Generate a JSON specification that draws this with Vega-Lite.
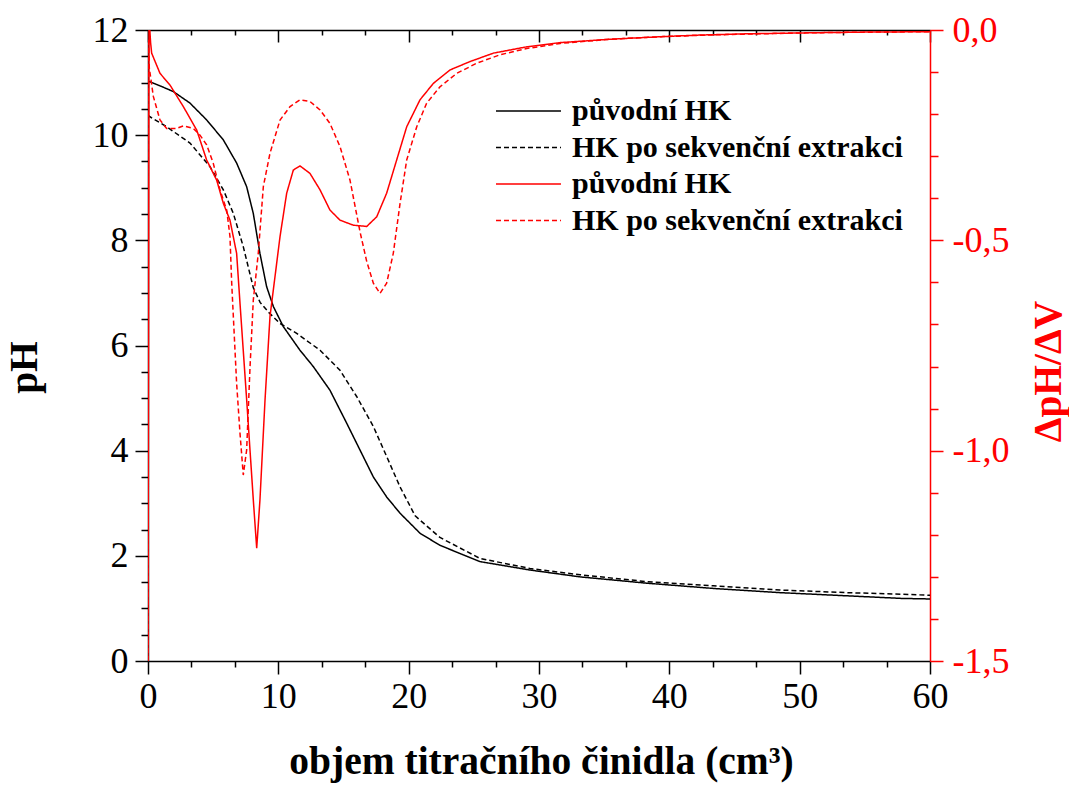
{
  "$schema": "https://vega.github.io/schema/vega-lite/v6.json",
  "width": 782,
  "height": 631,
  "autosize": {"type": "none"},
  "padding": {"left": 148, "top": 30, "right": 139, "bottom": 130},
  "background": "white",
  "config": {
    "font": "'Liberation Serif', 'Times New Roman', 'DejaVu Serif', serif",
    "view": {"stroke": null},
    "axis": {
      "grid": false,
      "labelFont": "'Liberation Serif', 'Times New Roman', 'DejaVu Serif', serif",
      "titleFont": "'Liberation Serif', 'Times New Roman', 'DejaVu Serif', serif",
      "labelFontSize": 36,
      "titleFontSize": 39.5,
      "titleFontWeight": "bold",
      "domainWidth": 1.5,
      "tickWidth": 1.5,
      "domainColor": "#000000",
      "tickColor": "#000000",
      "labelColor": "#000000",
      "titleColor": "#000000",
      "labelOverlap": false,
      "labelFlush": false
    }
  },
  "data": {
    "values": [
      {"series": "pH1", "x": 0, "v": 11.03},
      {"series": "pH1", "x": 1.0, "v": 10.93},
      {"series": "pH1", "x": 1.94, "v": 10.83},
      {"series": "pH1", "x": 3.22, "v": 10.61},
      {"series": "pH1", "x": 4.5, "v": 10.29},
      {"series": "pH1", "x": 5.78, "v": 9.91},
      {"series": "pH1", "x": 6.8, "v": 9.47},
      {"series": "pH1", "x": 7.57, "v": 9.02},
      {"series": "pH1", "x": 8.08, "v": 8.51},
      {"series": "pH1", "x": 8.59, "v": 7.75},
      {"series": "pH1", "x": 9.1, "v": 7.12},
      {"series": "pH1", "x": 9.62, "v": 6.74},
      {"series": "pH1", "x": 10.38, "v": 6.36},
      {"series": "pH1", "x": 11.66, "v": 5.91},
      {"series": "pH1", "x": 12.68, "v": 5.6},
      {"series": "pH1", "x": 13.96, "v": 5.15},
      {"series": "pH1", "x": 15.25, "v": 4.52},
      {"series": "pH1", "x": 16.27, "v": 4.01},
      {"series": "pH1", "x": 17.29, "v": 3.5},
      {"series": "pH1", "x": 18.31, "v": 3.12},
      {"series": "pH1", "x": 19.34, "v": 2.81},
      {"series": "pH1", "x": 20.87, "v": 2.43},
      {"series": "pH1", "x": 22.4, "v": 2.2},
      {"series": "pH1", "x": 25.47, "v": 1.89},
      {"series": "pH1", "x": 29.31, "v": 1.73},
      {"series": "pH1", "x": 33.15, "v": 1.6},
      {"series": "pH1", "x": 38.26, "v": 1.48},
      {"series": "pH1", "x": 43.37, "v": 1.38},
      {"series": "pH1", "x": 48.49, "v": 1.3},
      {"series": "pH1", "x": 53.6, "v": 1.24},
      {"series": "pH1", "x": 57.83, "v": 1.19},
      {"series": "pH1", "x": 60, "v": 1.18},

      {"series": "pH2", "x": 0, "v": 10.38},
      {"series": "pH2", "x": 0.15, "v": 10.35},
      {"series": "pH2", "x": 1.43, "v": 10.16},
      {"series": "pH2", "x": 3.22, "v": 9.85},
      {"series": "pH2", "x": 4.76, "v": 9.4},
      {"series": "pH2", "x": 5.78, "v": 8.96},
      {"series": "pH2", "x": 6.55, "v": 8.51},
      {"series": "pH2", "x": 7.31, "v": 7.88},
      {"series": "pH2", "x": 8.08, "v": 7.1},
      {"series": "pH2", "x": 8.6, "v": 6.82},
      {"series": "pH2", "x": 9.3, "v": 6.62},
      {"series": "pH2", "x": 10.13, "v": 6.42},
      {"series": "pH2", "x": 11.41, "v": 6.23},
      {"series": "pH2", "x": 13.2, "v": 5.91},
      {"series": "pH2", "x": 14.73, "v": 5.53},
      {"series": "pH2", "x": 16.01, "v": 5.03},
      {"series": "pH2", "x": 17.29, "v": 4.46},
      {"series": "pH2", "x": 18.31, "v": 3.89},
      {"series": "pH2", "x": 19.34, "v": 3.31},
      {"series": "pH2", "x": 20.5, "v": 2.76},
      {"series": "pH2", "x": 22.4, "v": 2.35},
      {"series": "pH2", "x": 25.47, "v": 1.95},
      {"series": "pH2", "x": 29.31, "v": 1.76},
      {"series": "pH2", "x": 33.15, "v": 1.64},
      {"series": "pH2", "x": 38.26, "v": 1.51},
      {"series": "pH2", "x": 43.37, "v": 1.43},
      {"series": "pH2", "x": 48.49, "v": 1.35},
      {"series": "pH2", "x": 53.6, "v": 1.3},
      {"series": "pH2", "x": 57.83, "v": 1.27},
      {"series": "pH2", "x": 60, "v": 1.25},

      {"series": "d1", "x": 0, "v": -1.5},
      {"series": "d1", "x": 0.08, "v": 0.03},
      {"series": "d1", "x": 0.2, "v": -0.03},
      {"series": "d1", "x": 0.28, "v": -0.055},
      {"series": "d1", "x": 0.92, "v": -0.103},
      {"series": "d1", "x": 1.69, "v": -0.131},
      {"series": "d1", "x": 2.71, "v": -0.182},
      {"series": "d1", "x": 3.74, "v": -0.238},
      {"series": "d1", "x": 4.5, "v": -0.309},
      {"series": "d1", "x": 5.27, "v": -0.357},
      {"series": "d1", "x": 5.78, "v": -0.412},
      {"series": "d1", "x": 6.29, "v": -0.452},
      {"series": "d1", "x": 6.8, "v": -0.531},
      {"series": "d1", "x": 7.06, "v": -0.65},
      {"series": "d1", "x": 7.57, "v": -0.879},
      {"series": "d1", "x": 8.08, "v": -1.117},
      {"series": "d1", "x": 8.34, "v": -1.232},
      {"series": "d1", "x": 8.59, "v": -1.117},
      {"series": "d1", "x": 8.98, "v": -0.879},
      {"series": "d1", "x": 9.36, "v": -0.681},
      {"series": "d1", "x": 10.13, "v": -0.491},
      {"series": "d1", "x": 10.64, "v": -0.388},
      {"series": "d1", "x": 11.15, "v": -0.333},
      {"series": "d1", "x": 11.66, "v": -0.323},
      {"series": "d1", "x": 12.43, "v": -0.341},
      {"series": "d1", "x": 13.2, "v": -0.38},
      {"series": "d1", "x": 13.96, "v": -0.428},
      {"series": "d1", "x": 14.73, "v": -0.452},
      {"series": "d1", "x": 15.75, "v": -0.464},
      {"series": "d1", "x": 16.78, "v": -0.467},
      {"series": "d1", "x": 17.55, "v": -0.444},
      {"series": "d1", "x": 18.31, "v": -0.388},
      {"series": "d1", "x": 19.08, "v": -0.309},
      {"series": "d1", "x": 19.85, "v": -0.23},
      {"series": "d1", "x": 20.87, "v": -0.166},
      {"series": "d1", "x": 21.89, "v": -0.127},
      {"series": "d1", "x": 23.17, "v": -0.095},
      {"series": "d1", "x": 24.71, "v": -0.075},
      {"series": "d1", "x": 26.5, "v": -0.055},
      {"series": "d1", "x": 29.06, "v": -0.04},
      {"series": "d1", "x": 31.61, "v": -0.03},
      {"series": "d1", "x": 35.45, "v": -0.022},
      {"series": "d1", "x": 39.28, "v": -0.016},
      {"series": "d1", "x": 42.35, "v": -0.012},
      {"series": "d1", "x": 46, "v": -0.009},
      {"series": "d1", "x": 50, "v": -0.007},
      {"series": "d1", "x": 55, "v": -0.005},
      {"series": "d1", "x": 60, "v": -0.004},

      {"series": "d2", "x": 0, "v": -1.5},
      {"series": "d2", "x": 0.02, "v": -0.02},
      {"series": "d2", "x": 0.1, "v": -0.09},
      {"series": "d2", "x": 0.41, "v": -0.158},
      {"series": "d2", "x": 0.92, "v": -0.214},
      {"series": "d2", "x": 1.43, "v": -0.234},
      {"series": "d2", "x": 2.2, "v": -0.234},
      {"series": "d2", "x": 2.71, "v": -0.228},
      {"series": "d2", "x": 3.48, "v": -0.234},
      {"series": "d2", "x": 3.99, "v": -0.25},
      {"series": "d2", "x": 4.5, "v": -0.273},
      {"series": "d2", "x": 5.01, "v": -0.317},
      {"series": "d2", "x": 5.52, "v": -0.38},
      {"series": "d2", "x": 6.04, "v": -0.428},
      {"series": "d2", "x": 6.29, "v": -0.491},
      {"series": "d2", "x": 6.42, "v": -0.6},
      {"series": "d2", "x": 6.8, "v": -0.84},
      {"series": "d2", "x": 7.06, "v": -0.959},
      {"series": "d2", "x": 7.31, "v": -1.058},
      {"series": "d2", "x": 7.57, "v": -0.998},
      {"series": "d2", "x": 7.83, "v": -0.8},
      {"series": "d2", "x": 8.08, "v": -0.642},
      {"series": "d2", "x": 8.46, "v": -0.531},
      {"series": "d2", "x": 8.85, "v": -0.372},
      {"series": "d2", "x": 9.36, "v": -0.293},
      {"series": "d2", "x": 10.13, "v": -0.214},
      {"series": "d2", "x": 10.9, "v": -0.182},
      {"series": "d2", "x": 11.66, "v": -0.166},
      {"series": "d2", "x": 12.43, "v": -0.17},
      {"series": "d2", "x": 13.2, "v": -0.19},
      {"series": "d2", "x": 13.96, "v": -0.222},
      {"series": "d2", "x": 14.73, "v": -0.277},
      {"series": "d2", "x": 15.5, "v": -0.357},
      {"series": "d2", "x": 16.27, "v": -0.48},
      {"series": "d2", "x": 16.78, "v": -0.55},
      {"series": "d2", "x": 17.29, "v": -0.602},
      {"series": "d2", "x": 17.8, "v": -0.626},
      {"series": "d2", "x": 18.31, "v": -0.602},
      {"series": "d2", "x": 18.82, "v": -0.531},
      {"series": "d2", "x": 19.34, "v": -0.412},
      {"series": "d2", "x": 19.85, "v": -0.309},
      {"series": "d2", "x": 20.62, "v": -0.23},
      {"series": "d2", "x": 21.38, "v": -0.174},
      {"series": "d2", "x": 22.4, "v": -0.135},
      {"series": "d2", "x": 23.69, "v": -0.103},
      {"series": "d2", "x": 25.22, "v": -0.079},
      {"series": "d2", "x": 27.0, "v": -0.059},
      {"series": "d2", "x": 29.06, "v": -0.044},
      {"series": "d2", "x": 31.61, "v": -0.032},
      {"series": "d2", "x": 35.45, "v": -0.022},
      {"series": "d2", "x": 39.28, "v": -0.016},
      {"series": "d2", "x": 43, "v": -0.012},
      {"series": "d2", "x": 47, "v": -0.009},
      {"series": "d2", "x": 52, "v": -0.006},
      {"series": "d2", "x": 56, "v": -0.005},
      {"series": "d2", "x": 60, "v": -0.004}
    ]
  },
  "layer": [
    {
      "transform": [{"filter": "datum.series == 'pH1' || datum.series == 'pH2'"}],
      "mark": {"type": "line", "strokeWidth": 1.5, "clip": true},
      "encoding": {
        "x": {
          "field": "x", "type": "quantitative",
          "scale": {"domain": [0, 60], "nice": false, "zero": false},
          "axis": {
            "orient": "bottom",
            "values": [0, 10, 20, 30, 40, 50, 60],
            "tickSize": 13,
            "labelPadding": 5,
            "title": "objem titračního činidla (cm³)",
            "titleX": 393,
            "titleY": 112,
            "titleAnchor": "middle",
            "titleAlign": "center",
            "titleBaseline": "alphabetic"
          }
        },
        "y": {
          "field": "v", "type": "quantitative",
          "scale": {"domain": [0, 12], "nice": false, "zero": false},
          "axis": {
            "orient": "left",
            "values": [0, 2, 4, 6, 8, 10, 12],
            "tickSize": 13,
            "labelPadding": 7,
            "title": "pH",
            "titleAngle": 270,
            "titleX": -124,
            "titleY": 337,
            "titleAlign": "center",
            "titleBaseline": "middle"
          }
        },
        "color": {
          "field": "series", "type": "nominal",
          "scale": {"domain": ["pH1", "pH2", "d1", "d2"], "range": ["#000000", "#000000", "#ff0000", "#ff0000"]},
          "legend": {
            "orient": "none", "legendX": 333, "legendY": 66, "title": null,
            "symbolType": "M0,0H6", "symbolSize": 469, "symbolStrokeWidth": 1.5,
            "labelFont": "'Liberation Serif', 'Times New Roman', 'DejaVu Serif', serif", "labelFontWeight": "bold", "labelFontSize": 30,
            "labelColor": "#000000", "labelOffset": 61, "rowPadding": 6.5, "padding": 0, "labelLimit": 600,
            "labelExpr": "(datum.value == 'pH1' || datum.value == 'd1') ? 'původní HK' : 'HK po sekvenční extrakci'"
          }
        },
        "strokeDash": {
          "field": "series", "type": "nominal",
          "scale": {"domain": ["pH1", "pH2", "d1", "d2"], "range": [[1, 0], [5, 3], [1, 0], [5, 3]]},
          "legend": {
            "orient": "none", "legendX": 333, "legendY": 66, "title": null,
            "symbolType": "M0,0H6", "symbolSize": 469, "symbolStrokeWidth": 1.5,
            "labelFont": "'Liberation Serif', 'Times New Roman', 'DejaVu Serif', serif", "labelFontWeight": "bold", "labelFontSize": 30,
            "labelColor": "#000000", "labelOffset": 61, "rowPadding": 6.5, "padding": 0, "labelLimit": 600,
            "labelExpr": "(datum.value == 'pH1' || datum.value == 'd1') ? 'původní HK' : 'HK po sekvenční extrakci'"
          }
        }
      }
    },
    {
      "transform": [{"filter": "datum.series == 'd1' || datum.series == 'd2'"}],
      "mark": {"type": "line", "strokeWidth": 1.5, "clip": true},
      "encoding": {
        "x": {"field": "x", "type": "quantitative", "scale": {"domain": [0, 60], "nice": false, "zero": false}, "axis": null},
        "y": {
          "field": "v", "type": "quantitative",
          "scale": {"domain": [-1.5, 0], "nice": false, "zero": false},
          "axis": {
            "orient": "right",
            "values": [0, -0.5, -1, -1.5],
            "tickSize": 13,
            "labelPadding": 9,
            "domainColor": "#ff0000",
            "tickColor": "#ff0000",
            "labelColor": "#ff0000",
            "titleColor": "#ff0000",
            "labelExpr": "datum.value == 0 ? '0,0' : datum.value == -0.5 ? '-0,5' : datum.value == -1 ? '-1,0' : '-1,5'",
            "title": "ΔpH/ΔV",
            "titleAngle": 270,
            "titleX": 118,
            "titleY": 341,
            "titleAlign": "center",
            "titleBaseline": "middle"
          }
        },
        "color": {"field": "series", "type": "nominal", "scale": {"domain": ["pH1", "pH2", "d1", "d2"], "range": ["#000000", "#000000", "#ff0000", "#ff0000"]}},
        "strokeDash": {"field": "series", "type": "nominal", "scale": {"domain": ["pH1", "pH2", "d1", "d2"], "range": [[1, 0], [5, 3], [1, 0], [5, 3]]}}
      }
    },
    {
      "transform": [{"filter": "datum.series == 'pH1'"}],
      "mark": {"type": "point", "opacity": 0},
      "encoding": {
        "x": {
          "field": "x", "type": "quantitative", "scale": {"domain": [0, 60], "nice": false, "zero": false},
          "axis": {"orient": "top", "values": [0, 10, 20, 30, 40, 50, 60], "tickSize": -12, "labels": false, "title": null, "domain": true}
        },
        "y": {
          "field": "v", "type": "quantitative", "scale": {"domain": [0, 12], "nice": false, "zero": false},
          "axis": {"orient": "left", "values": [0.5, 1, 1.5, 2.5, 3, 3.5, 4.5, 5, 5.5, 6.5, 7, 7.5, 8.5, 9, 9.5, 10.5, 11, 11.5], "tickSize": 7, "labels": false, "domain": false, "title": null}
        }
      }
    },
    {
      "transform": [{"filter": "datum.series == 'd1'"}],
      "mark": {"type": "point", "opacity": 0},
      "encoding": {
        "x": {
          "field": "x", "type": "quantitative", "scale": {"domain": [0, 60], "nice": false, "zero": false},
          "axis": {"orient": "top", "values": [3.3333, 6.6667, 13.3333, 16.6667, 23.3333, 26.6667, 33.3333, 36.6667, 43.3333, 46.6667, 53.3333, 56.6667], "tickSize": -5, "labels": false, "title": null, "domain": false}
        },
        "y": {
          "field": "v", "type": "quantitative", "scale": {"domain": [-1.5, 0], "nice": false, "zero": false},
          "axis": {"orient": "right", "values": [-0.1, -0.2, -0.3, -0.4, -0.6, -0.7, -0.8, -0.9, -1.1, -1.2, -1.3, -1.4], "tickSize": 8, "tickColor": "#ff0000", "labels": false, "domain": false, "title": null}
        }
      }
    },
    {
      "transform": [{"filter": "datum.series == 'pH2'"}],
      "mark": {"type": "point", "opacity": 0},
      "encoding": {
        "x": {
          "field": "x", "type": "quantitative", "scale": {"domain": [0, 60], "nice": false, "zero": false},
          "axis": {"orient": "bottom", "values": [3.3333, 6.6667, 13.3333, 16.6667, 23.3333, 26.6667, 33.3333, 36.6667, 43.3333, 46.6667, 53.3333, 56.6667], "tickSize": 6, "labels": false, "title": null, "domain": false}
        },
        "y": {"field": "v", "type": "quantitative", "scale": {"domain": [0, 12], "nice": false, "zero": false}, "axis": null}
      }
    }
  ],
  "resolve": {"scale": {"y": "independent"}, "axis": {"x": "independent", "y": "independent"}}
}
